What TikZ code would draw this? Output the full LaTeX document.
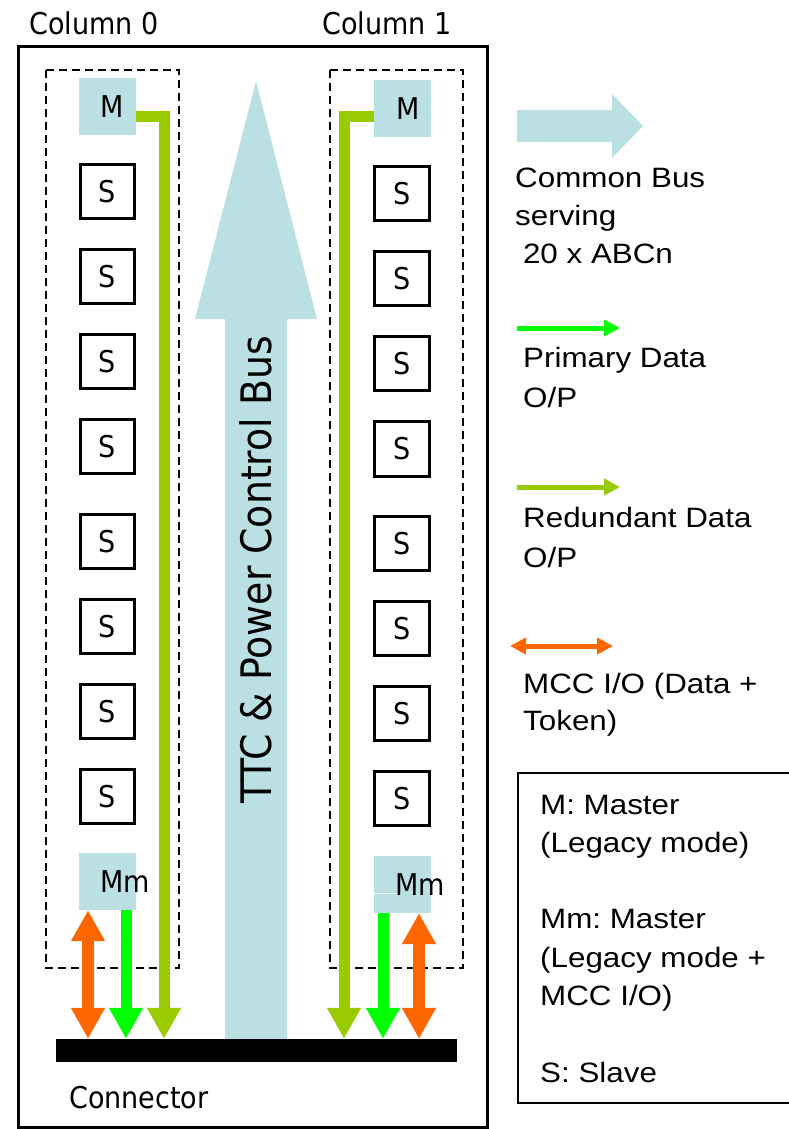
\documentclass[tikz,border=0pt]{standalone}
\usepackage{fontspec}
\setmainfont{Liberation Sans}
\newfontfamily\handfont{DejaVu Sans}
\usetikzlibrary{arrows.meta}
\frenchspacing

\definecolor{busblue}{HTML}{BBE0E3}
\definecolor{redgreen}{HTML}{99CC00}
\definecolor{primgreen}{HTML}{00FF00}
\definecolor{mccorange}{HTML}{FF6600}

% hand-lettered labels and plain legend text
\newcommand\hand[2][30]{\scalebox{0.9}[1]{\handfont\fontsize{#1}{#1}\selectfont #2}}
\newcommand\legtxt[2][38.5]{\scalebox{1.12}[1]{\fontsize{28}{#1}\selectfont\begin{tabular}[t]{@{}l@{}}#2\end{tabular}}}

\begin{document}
\begin{tikzpicture}[x=1pt,y=-1pt,
  sbox/.style={draw, line width=2.6pt, minimum size=54.5pt, inner sep=0pt},
  mbox/.style={fill=busblue, minimum size=57pt, inner sep=0pt},
  txt/.style={inner sep=0pt},
  grp/.style={draw, line width=2.8pt, dash pattern=on 8pt off 5pt},
  redline/.style={draw=redgreen, line width=11pt, line join=miter, -{Triangle[width=32pt,length=31pt]}},
  primline/.style={draw=primgreen, line width=11pt, -{Triangle[width=32pt,length=31pt]}},
  mccline/.style={draw=mccorange, line width=11.5pt, {Triangle[width=32pt,length=31pt]}-{Triangle[width=32pt,length=31pt]}},
  legred/.style={draw=redgreen, line width=5pt, -{Triangle[width=16pt,length=16pt]}},
  legprim/.style={draw=primgreen, line width=5pt, -{Triangle[width=16pt,length=16pt]}},
  legmcc/.style={draw=mccorange, line width=5pt, {Triangle[width=16pt,length=16pt]}-{Triangle[width=16pt,length=16pt]}}]
\useasboundingbox (0,0) rectangle (789,1129);
\fill[white] (0,0) rectangle (789,1129);

% column headings and crate frame
\node[txt, anchor=base west] (col0) at (29,35) {\hand{Column 0}};
\node[txt, anchor=base west] (col1) at (322,35) {\hand{Column 1}};
\draw[line width=3pt] (18,47) rectangle (487,1127);

% column groups
\draw[grp] (46,70) rectangle (179,968);
\draw[grp] (330,70) rectangle (463,968);

% TTC & power control bus
\fill[busblue] (225,1039) -- (225,319) -- (195,319) -- (256,81) -- (317,319) -- (287,319) -- (287,1039) -- cycle;
\node[txt, rotate=90] (ttc) at (256,570) {\hand[42]{TTC \& Power Control Bus}};

% connector
\node[fill=black, inner sep=0pt, minimum width=401pt, minimum height=23pt] (bar) at (256.5,1050.5) {};
\node[txt, anchor=base west] (conn) at (69,1108) {\hand{Connector}};

% masters
\node[mbox] (m0) at (107.5,106.5) {};
\node[txt] (m0t) at (112.5,107) {\hand{M}};
\node[mbox] (m1) at (402.5,108.5) {};
\node[txt] (m1t) at (408,109) {\hand{M}};
\node[mbox] (mm0) at (107.5,881.5) {};
\node[txt] (mm0t) at (125,881.5) {\hand{Mm}};
\node[mbox] (mm1) at (402.5,884.5) {};
\draw[white, line width=1pt] (mm1.west |- 0,893) -- (401,893);
\node[txt] (mm1t) at (420,885) {\hand{Mm}};

% slaves
\foreach \y [count=\i] in {191.5,276.5,361.5,446.5,541.5,626.5,711.5,796.5}
  \node[sbox] (sl\i) at (107.5,\y) {\hand{S}};
\foreach \y [count=\i] in {193.5,278.5,363.5,449,543.5,628.5,713.5,798.5}
  \node[sbox] (sr\i) at (402,\y) {\hand{S}};

% data outputs to the connector
\draw[redline] (m0.east |- 0,117) -- (164,117) -- (164,0 |- bar.north);
\draw[redline] (m1.west |- 0,116.5) -- (344,116.5) -- (344,0 |- bar.north);
\draw[primline] (126,0 |- mm0.south) -- (126,0 |- bar.north);
\draw[primline] (383,0 |- mm1.south) -- (383,0 |- bar.north);
\draw[mccline] (88,0 |- mm0.south) -- (88,0 |- bar.north);
\draw[mccline] (419,0 |- mm1.south) -- (419,0 |- bar.north);

% legend
\fill[busblue] (517,110) -- (612,110) -- (612,94) -- (643,126) -- (612,158) -- (612,142) -- (517,142) -- cycle;
\node[txt, anchor=base west] (lgbus) at (515,187) {\legtxt[38]{Common Bus\\serving\\\hspace{7pt}20 x ABCn}};

\coordinate (lpa) at (517,328); \coordinate (lpb) at (620,328);
\draw[legprim] (lpa) -- (lpb);
\node[txt, anchor=base west] (lgprim) at (523,367) {\legtxt[40]{Primary Data\\O/P}};

\coordinate (lra) at (517,487); \coordinate (lrb) at (620,487);
\draw[legred] (lra) -- (lrb);
\node[txt, anchor=base west] (lgred) at (523,527) {\legtxt[40]{Redundant Data\\O/P}};

\coordinate (lma) at (510,646); \coordinate (lmb) at (613,646);
\draw[legmcc] (lma) -- (lmb);
\node[txt, anchor=base west] (lgmcc) at (523,693) {\legtxt[37.5]{MCC I/O (Data +\\Token)}};

\draw[line width=2.6pt] (518,773) rectangle (800,1103);
\node[txt, anchor=base west] (lgkey) at (540,814) {\legtxt[38.3]{M: Master\\(Legacy mode)\\ \\Mm: Master\\(Legacy mode +\\MCC I/O)\\ \\S: Slave}};
\end{tikzpicture}
\end{document}
